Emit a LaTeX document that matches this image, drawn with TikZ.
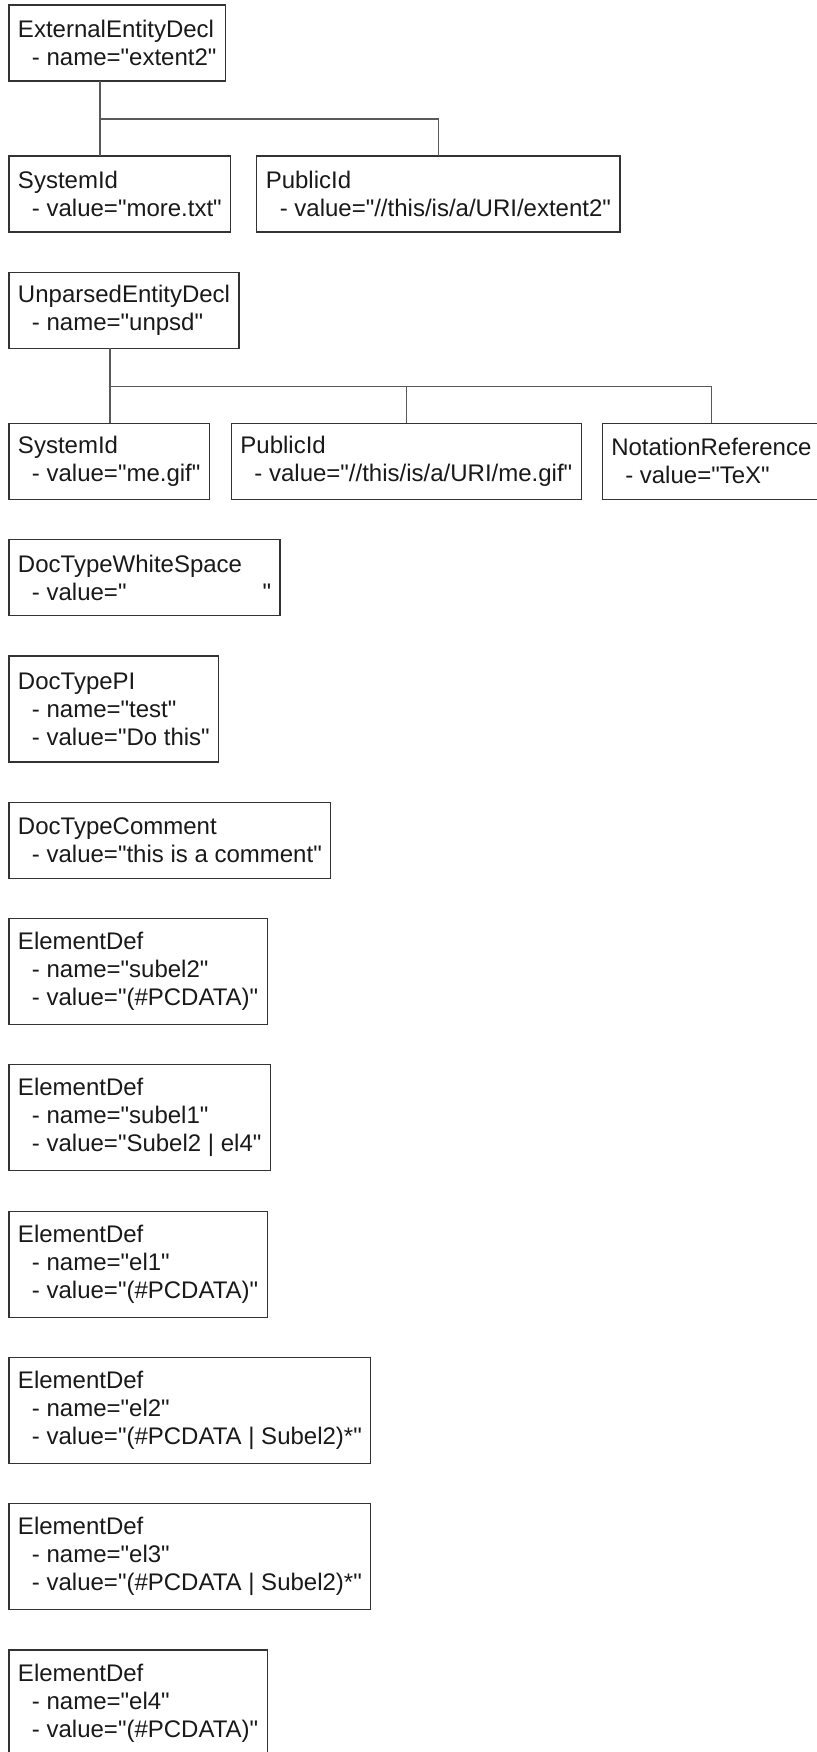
\documentclass[tikz,border=0pt]{standalone}
\usepackage{fontspec}
\setmainfont{Liberation Sans}[Ligatures=TeXOff]
\usepackage{tikz}
\usetikzlibrary{positioning}

\newcommand{\attr}[1]{\hspace*{7pt}- #1}

\begin{document}
\begin{tikzpicture}[x=0.5pt, y=-0.5pt, node distance=20.15pt and 13pt,
    every node/.style={font=\fontsize{12}{14}\selectfont, text=black!90},
    box/.style={rectangle, draw=black!80, line width=0.6pt, outer sep=0pt, align=left, inner xsep=4.5pt, inner ysep=0pt, minimum height=38pt},
    tall/.style={box, minimum height=53pt},
    stackbelow/.style={below=of #1.south west, anchor=north west},
    conn/.style={draw=black!65, line width=0.6pt},
]
\useasboundingbox (0,0) rectangle (817,1752);

% external entity with its two ids
\node[box, anchor=north west] (ext) at (9,5) {ExternalEntityDecl\\\attr{name="extent2"}};
\node[box, below=37.5pt of ext.south west, anchor=north west] (sys1) {SystemId\\\attr{value="more.txt"}};
\node[box, right=13pt of sys1.north east, anchor=north west] (pub1) {PublicId\\\attr{value="//this/is/a/URI/extent2"}};

\coordinate (extstem) at ([xshift=45.5pt]ext.south west);
\coordinate (extjoin) at ([yshift=-19pt]extstem);
\draw[conn] (extstem) -- (extstem |- sys1.north);
\draw[conn] (extjoin) -| (pub1.north);

% unparsed entity with id and notation
\node[box, stackbelow=sys1] (unp) {UnparsedEntityDecl\\\attr{name="unpsd"}};
\node[box, below=37.5pt of unp.south west, anchor=north west] (sys2) {SystemId\\\attr{value="me.gif"}};
\node[box, right=11pt of sys2.north east, anchor=north west] (pub2) {PublicId\\\attr{value="//this/is/a/URI/me.gif"}};
\node[box, right=10.5pt of pub2.north east, anchor=north west] (nota) {NotationReference\\\attr{value="TeX"}};

\coordinate (unpstem) at ([xshift=50.5pt]unp.south west);
\coordinate (unpjoin) at ([yshift=-19pt]unpstem);
\draw[conn] (unpstem) -- (unpstem |- sys2.north);
\draw[conn] (unpjoin) -| (pub2.north);
\draw[conn] (unpjoin) -| (nota.north);

% doctype items
\node[box, stackbelow=sys2] (ws) {DocTypeWhiteSpace\\\attr{value="\hspace{68pt}"}};
\node[tall, stackbelow=ws] (pi) {DocTypePI\\\attr{name="test"}\\\attr{value="Do this"}};
\node[box, stackbelow=pi] (cmt) {DocTypeComment\\\attr{value="this is a comment"}};

% element definitions
\node[tall, stackbelow=cmt] (subtwo) {ElementDef\\\attr{name="subel2"}\\\attr{value="(\#PCDATA)"}};
\node[tall, stackbelow=subtwo] (subone) {ElementDef\\\attr{name="subel1"}\\\attr{value="Subel2 | el4"}};
\node[tall, stackbelow=subone] (elone) {ElementDef\\\attr{name="el1"}\\\attr{value="(\#PCDATA)"}};
\node[tall, stackbelow=elone] (eltwo) {ElementDef\\\attr{name="el2"}\\\attr{value="(\#PCDATA | Subel2)*"}};
\node[tall, stackbelow=eltwo] (elthree) {ElementDef\\\attr{name="el3"}\\\attr{value="(\#PCDATA | Subel2)*"}};
\node[tall, stackbelow=elthree] (elfour) {ElementDef\\\attr{name="el4"}\\\attr{value="(\#PCDATA)"}};
\end{tikzpicture}
\end{document}
